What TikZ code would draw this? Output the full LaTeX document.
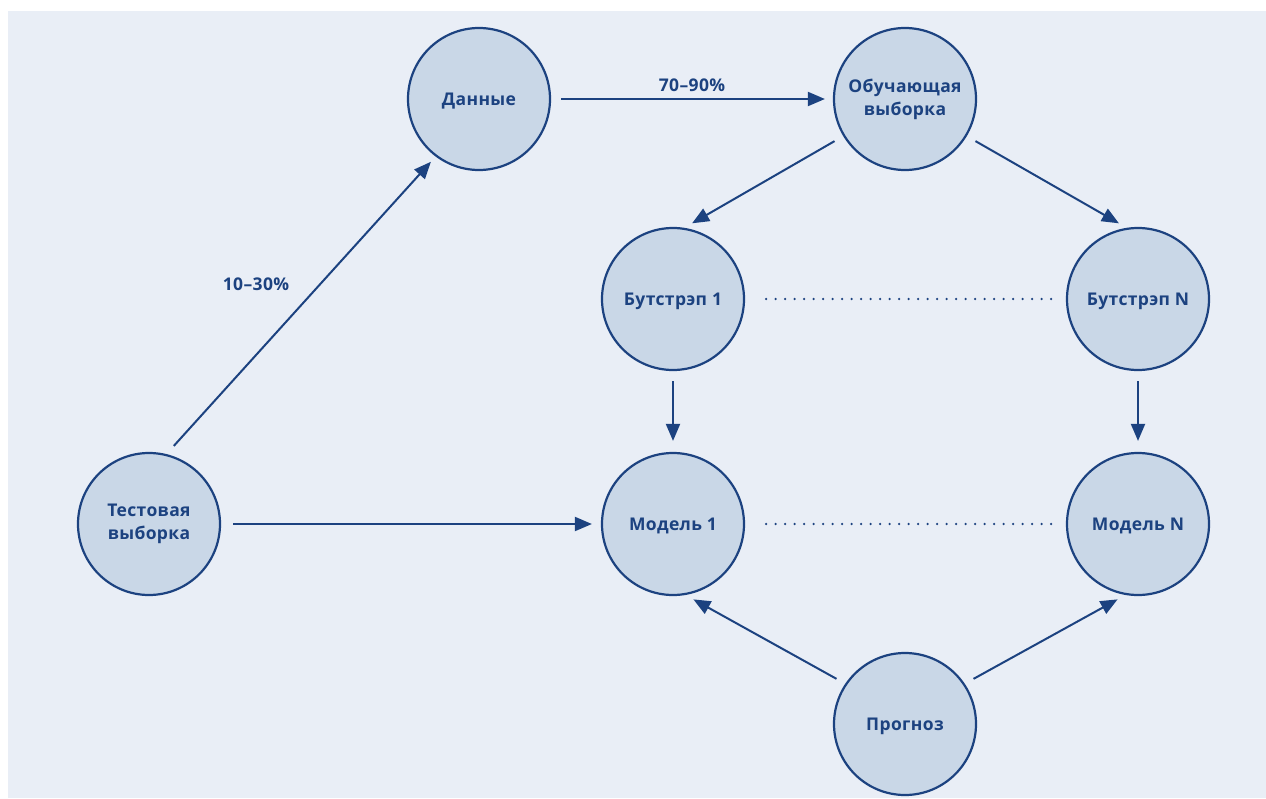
\documentclass[tikz,border=0pt]{standalone}
\usepackage{fontspec}
\setmainfont{Open Sans}
\newfontfamily\lblfont[LetterSpace=2]{Open Sans}
\usetikzlibrary{arrows.meta}
\definecolor{bgc}{HTML}{E9EEF6}
\definecolor{fillc}{HTML}{C9D7E7}
\definecolor{navy}{HTML}{1C4280}
\tikzset{
  circ/.style={circle,draw=navy,fill=fillc,line width=2.2pt,minimum size=142pt,inner sep=0pt,
    text=navy,font=\lblfont\bfseries\fontsize{17.5}{23}\selectfont,align=center},
  circone/.style={circ,text height=12.5pt,text depth=0pt},
  arr/.style={draw=navy,line width=2pt,-{Triangle[length=17pt,width=14pt]}},
  dotline/.style={draw=navy,line width=2.6pt,dash pattern=on 0pt off 9.5pt,line cap=round},
  lbl/.style={text=navy,font=\lblfont\bfseries\fontsize{17.5}{23}\selectfont}
}
\begin{document}
\begin{tikzpicture}[x=1pt,y=-1pt]
\useasboundingbox (0,0) rectangle (1266,798);
\fill[white] (0,0) rectangle (1266,798);
\fill[bgc] (8,11) rectangle (1266,798);
\node[circone] (data) at (479,99) {Данные};
\node[circ] (train) at (905,99) {Обучающая\\выборка};
\node[circone] (b1) at (673,299) {Бутстрэп 1};
\node[circone] (bn) at (1138,299) {Бутстрэп N};
\node[circ] (test) at (149,524) {Тестовая\\выборка};
\node[circone] (m1) at (673,524) {Модель 1};
\node[circone] (mn) at (1138,524) {Модель N};
\node[circone] (prog) at (905,724) {Прогноз};
\draw[arr,shorten <=10pt,shorten >=8pt] (data.east) -- (train.west) node[midway,above=3pt,lbl]{70–90\%};
\draw[arr,shorten <=11pt,shorten >=7pt] (test.76) -- (data.233);
\node[lbl] (p1030) at (256,284) {10–30\%};
\draw[arr,shorten <=10pt,shorten >=9pt] (train.211) -- (b1.81);
\draw[arr,shorten <=10pt,shorten >=9pt] (train.329) -- (bn.99);
\draw[arr,shorten <=10pt,shorten >=11pt] (b1.south) -- (m1.north);
\draw[arr,shorten <=10pt,shorten >=11pt] (bn.south) -- (mn.north);
\draw[arr,shorten <=12pt,shorten >=9pt] (test.east) -- (m1.west);
\draw[arr,shorten <=10pt,shorten >=9pt] (prog.146) -- (m1.280);
\draw[arr,shorten <=10pt,shorten >=9pt] (prog.34) -- (mn.260);
\draw[dotline,shorten <=21pt,shorten >=11pt] (b1.east) -- (bn.west);
\draw[dotline,shorten <=21pt,shorten >=11pt] (m1.east) -- (mn.west);
\end{tikzpicture}
\end{document}
